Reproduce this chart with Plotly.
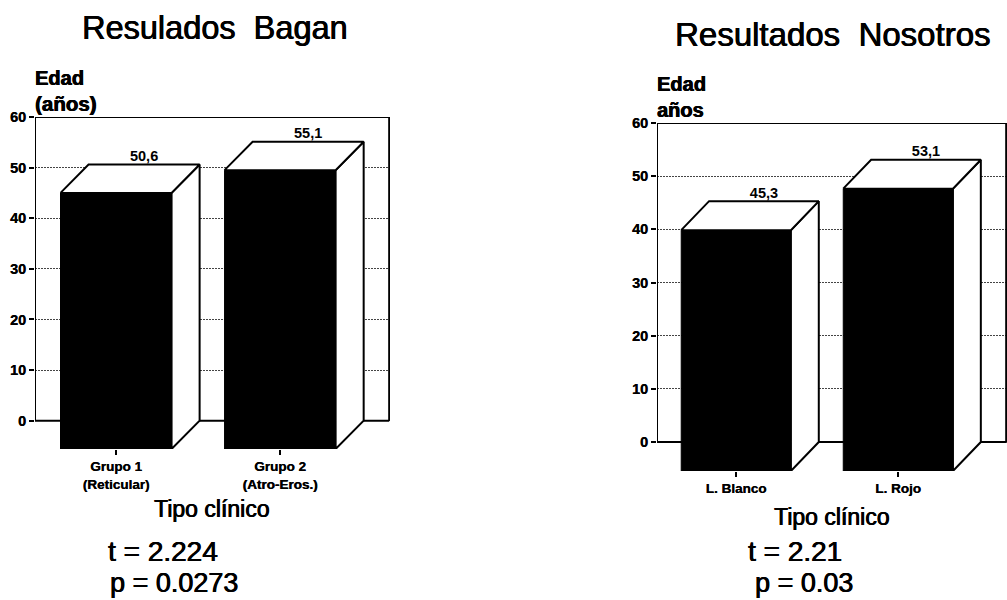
import plotly.graph_objects as go

W, H = 1007, 600

# ---- data ----
left_title = "Resulados  Bagan"
left_categories = ["Grupo 1<br>(Reticular)", "Grupo 2<br>(Atro-Eros.)"]
left_values = [50.6, 55.1]
left_stats = ["t = 2.224", "p = 0.0273"]

right_title = "Resultados  Nosotros"
right_categories = ["L. Blanco", "L. Rojo"]
right_values = [45.3, 53.1]
right_stats = ["t = 2.21", "p = 0.03"]

y_ticks = [0, 10, 20, 30, 40, 50, 60]
x_title = "Tipo clínico"

# ---- look ----
FONT = "Liberation Sans"
BAR_W = 0.677
LW = 2
HEAVY = "0.5px 0 0 black, -0.3px 0 0 black"
LIGHT = "0.3px 0 0 black"


def px(x):
    return x / W


def py(y):
    # the photographed page sits 8px lower and is 592px tall
    return 1 - (y - 8) / 592


panels = [
    dict(values=left_values, cats=left_categories, sfx="", dom_x=(35, 390), dom_y=(449, 117),
         xr=(0.506, 2.67), depth_y=5.6, depth_x=0.171),
    dict(values=right_values, cats=right_categories, sfx="2", dom_x=(657, 1007), dom_y=(471, 123),
         xr=(0.512, 2.672), depth_y=5.45, depth_x=0.172),
]

fig = go.Figure()
layout = dict(
    width=W, height=H, margin=dict(l=0, r=0, t=0, b=0), autosize=False,
    paper_bgcolor="white", plot_bgcolor="white", showlegend=False, barmode="overlay",
    font=dict(family=FONT, color="black"),
)

for p in panels:
    ax = dict(xaxis="x" + p["sfx"], yaxis="y" + p["sfx"])
    dx, dy = p["depth_x"], p["depth_y"]
    x0, x1 = p["xr"]
    wall_r = x1 - 0.005
    pos = [1, 2]

    # back wall
    fig.add_trace(go.Scatter(x=[wall_r, x0, x0, wall_r, wall_r], y=[0, 0, 60, 60, 0], mode="lines",
                             line=dict(color="black", width=LW), hoverinfo="skip", cliponaxis=False, **ax))
    # front faces
    fig.add_trace(go.Bar(x=pos, y=p["values"], base=[-dy, -dy], width=BAR_W,
                         marker=dict(color="black", line=dict(color="black", width=1)), **ax))
    for c, v in zip(pos, p["values"]):
        l, r = c - BAR_W / 2, c + BAR_W / 2
        # side face
        fig.add_trace(go.Scatter(x=[r, r + dx, r + dx, r, r], y=[v - dy, v, 0, -dy, v - dy], mode="lines",
                                 fill="toself", fillcolor="white", line=dict(color="black", width=LW),
                                 hoverinfo="skip", cliponaxis=False, **ax))
        # top face
        fig.add_trace(go.Scatter(x=[l, l + dx, r + dx, r, l], y=[v - dy, v, v, v - dy, v - dy], mode="lines",
                                 fill="toself", fillcolor="white", line=dict(color="black", width=LW),
                                 hoverinfo="skip", cliponaxis=False, **ax))
    # value labels
    fig.add_trace(go.Scatter(x=[c + dx for c in pos], y=p["values"], mode="text",
                             text=[f"{v:.1f}".replace(".", ",") for v in p["values"]],
                             textposition="top center",
                             textfont=dict(family=FONT, size=14.5, color="black", weight="bold"),
                             hoverinfo="skip", cliponaxis=False, **ax))

    layout["xaxis" + p["sfx"]] = dict(
        domain=[px(p["dom_x"][0]), px(p["dom_x"][1])], range=list(p["xr"]),
        tickmode="array", tickvals=pos, ticktext=p["cats"], ticks="outside", ticklen=5, tickwidth=1.5,
        tickcolor="black", showline=False, showgrid=False, zeroline=False,
        tickfont=dict(family=FONT, size=13.5, color="black", weight="bold", shadow=LIGHT),
        anchor="y" + p["sfx"],
    )
    layout["yaxis" + p["sfx"]] = dict(
        domain=[py(p["dom_y"][0]), py(p["dom_y"][1])], range=[-dy, 60],
        tickmode="array", tickvals=y_ticks, ticks="outside", ticklen=5, tickwidth=2, tickcolor="black",
        showline=False, showgrid=True, griddash="2px,1px", gridcolor="#444444", gridwidth=1, zeroline=False,
        tickfont=dict(family=FONT, size=14.5, color="black", weight="bold", shadow=LIGHT),
        anchor="x" + p["sfx"],
    )


def note(text, x, y, size, weight="normal", anchor="left"):
    return dict(text=text, x=px(x), y=py(y), xref="paper", yref="paper", showarrow=False, xanchor=anchor,
                yanchor="middle",
                font=dict(family=FONT, size=size, color="black", weight=weight, shadow=HEAVY))


annos = [
    note(left_title, 80, 28, 32.5),
    note(right_title, 673, 34, 33),
    note("Edad", 33, 78, 20, "bold"),
    note("(años)", 33, 103, 20.5, "bold"),
    note("Edad", 655, 84, 20, "bold"),
    note("años", 655, 110, 20, "bold"),
    note(x_title, 211, 509, 23, anchor="center"),
    note(x_title, 831, 517, 23, anchor="center"),
    note(left_stats[0], 106, 551, 28),
    note(left_stats[1], 108, 583, 27),
    note(right_stats[0], 746, 551, 28),
    note(right_stats[1], 753, 583, 27),
]
layout["annotations"] = annos
fig.update_layout(**layout)

fig.write_html("out.html", config={"displayModeBar": False},
               post_script="document.body.style.margin='0';")
